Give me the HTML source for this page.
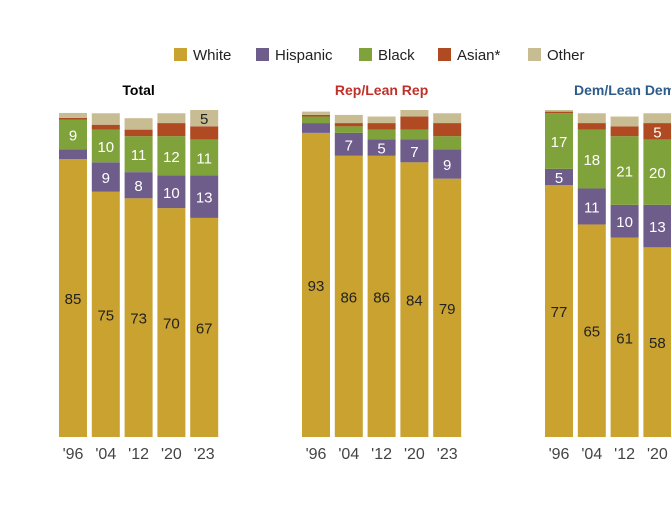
<!DOCTYPE html>
<html><head><meta charset="utf-8"><style>
body{margin:0;background:#fff;width:671px;height:512px;overflow:hidden;font-family:"Liberation Sans",sans-serif}
</style></head><body>
<svg id="c" width="671" height="512" xmlns="http://www.w3.org/2000/svg"></svg>
<script>
const categories=["'96","'04","'12","'20","'23"];
const series=["White","Hispanic","Black","Asian*","Other"];
const colors=["#C9A22F","#6E5C8A","#7FA23A","#B04A22","#C8BC93"];
const panelTitles=["Total","Rep/Lean Rep","Dem/Lean Dem"];
const titleColors=["#000","#C0302A","#2E5C8A"];
const totalWhite=[85,75,73,70,67],totalHisp=[3,9,8,10,13],totalBlack=[9,10,11,12,11],totalAsian=[0.6,1.5,2,4,4],totalOther=[1.5,3.5,3.5,3,5];
const repWhite=[93,86,86,84,79],repHisp=[3,7,5,7,9],repBlack=[2,2,3,3,4],repAsian=[0.5,1,2,4,4],repOther=[1,2.5,2,2,3];
const demWhite=[77,65,61,58],demHisp=[5,11,10,13],demBlack=[17,18,21,20],demAsian=[0.5,2,3,5],demOther=[0.5,3,3,3];
const panels=[[totalWhite,totalHisp,totalBlack,totalAsian,totalOther],[repWhite,repHisp,repBlack,repAsian,repOther],[demWhite,demHisp,demBlack,demAsian,demOther]];
const panelX=[59,302,545],step=32.8,bw=28,base=437,k=3.27;
const y=v=>base-v*k;
const svg=document.getElementById('c');const NS="http://www.w3.org/2000/svg";
function mk(t,a,txt){const e=document.createElementNS(NS,t);for(const n in a)e.setAttribute(n,a[n]);if(txt!==undefined)e.textContent=txt;svg.appendChild(e);return e;}
const lx=[174,256,359,438,528];
series.forEach((s,i)=>{
 const r=mk('rect',{x:lx[i],y:48,width:13,height:13,fill:colors[i]});
 
 
 const t=mk('text',{x:lx[i]+19,y:60,'font-size':15,fill:'#222'},s);
 
 
});
panels.forEach((p,pi)=>{
 const cx=panelX[pi]+(step*4+bw)/2;
 const tt=mk('text',{x:cx,y:95,'font-size':14,'font-weight':'bold','text-anchor':'middle',fill:titleColors[pi]},panelTitles[pi]);
 
 
 p[0].forEach((_,ci)=>{
  const x=panelX[pi]+ci*step;let cum=0;
  p.forEach((arr,si)=>{
   const v=arr[ci];const y1=y(cum+v),y0=y(cum);
   const r=mk('rect',{x:x,y:y1,width:bw,height:y0-y1,fill:colors[si]});
   
   
   if(v>=5){const t=mk('text',{x:x+bw/2,y:(y0+y1)/2+6,'font-size':15,'text-anchor':'middle',fill:(si==0||si==4)?'#222':'#fff'},Math.round(v));
    
    }
   cum+=v;
  });
  const xl=mk('text',{x:x+bw/2,y:459,'font-size':16,'text-anchor':'middle',fill:'#444'},categories[ci]);
  
  
 });
});
</script></body></html>
